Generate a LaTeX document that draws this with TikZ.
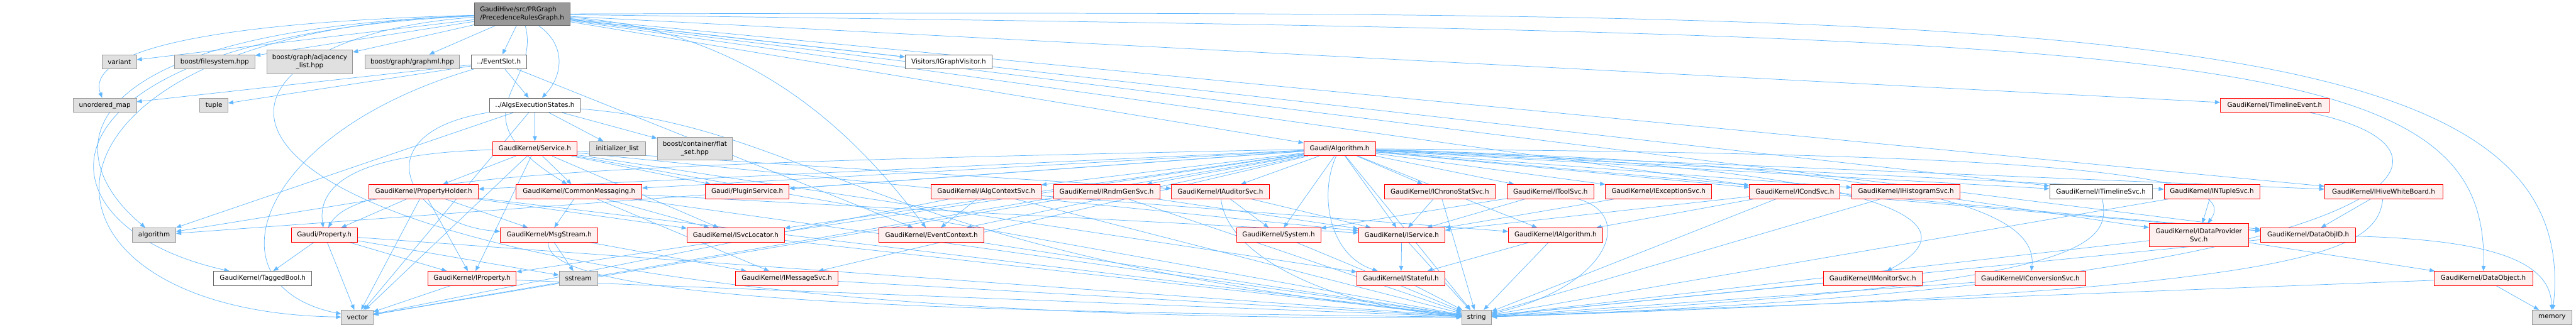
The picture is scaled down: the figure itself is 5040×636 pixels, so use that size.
\documentclass[tikz,border=0pt]{standalone}
\usepackage{fontspec}
\setmainfont{DejaVu Sans}
\usetikzlibrary{arrows.meta}
\definecolor{edgeblue}{HTML}{63B8FF}
\definecolor{redfill}{HTML}{FFF0F0}
\definecolor{grayfill}{HTML}{E0E0E0}
\definecolor{grayline}{HTML}{999999}
\definecolor{darkline}{HTML}{666666}
\definecolor{rootfill}{HTML}{999999}
\definecolor{boxred}{HTML}{FF0000}
\pgfdeclarelayer{bg}
\pgfdeclarelayer{paper}
\pgfsetlayers{paper,bg,main}
\tikzset{
 box/.style={draw, line width=1pt, minimum height=28pt, inner sep=0pt, font=\fontsize{12.8pt}{15.5pt}\selectfont, text=black, align=center},
 rbox/.style={box, draw=boxred, fill=redfill},
 gbox/.style={box, draw=grayline, fill=grayfill},
 wbox/.style={box, draw=darkline, fill=white},
 rootbox/.style={box, draw=darkline, fill=rootfill, align=left, minimum height=45pt},
 lk/.style={draw=edgeblue, line width=0.9pt, -{Triangle[length=10pt,width=8pt]}},
}
\begin{document}
\begin{tikzpicture}[x=1pt,y=-1pt]
\begin{pgfonlayer}{paper}
\fill[white] (0,0) rectangle (5040,636);
\end{pgfonlayer}
\useasboundingbox (0,0) rectangle (5040,636);
% row 0
\node[rootbox, minimum width=187pt] (root) at (1021.5,27.5) {GaudiHive/src/PRGraph\\/PrecedenceRulesGraph.h};
% row 1
\node[gbox, minimum width=67pt] (variant) at (233.5,121) {variant};
\node[gbox, minimum width=158pt] (fs) at (420,121) {boost/filesystem.hpp};
\node[gbox, minimum width=168pt, minimum height=46pt] (adj) at (606,121) {boost/graph/adjacency\\\_list.hpp};
\node[gbox, minimum width=185pt] (gml) at (806.5,121) {boost/graph/graphml.hpp};
\node[wbox, minimum width=108pt] (evs) at (976,121) {../EventSlot.h};
\node[wbox, minimum width=170pt] (igv) at (1856,121) {Visitors/IGraphVisitor.h};
% row 2
\node[gbox, minimum width=124pt] (umap) at (205,206) {unordered\_map};
\node[gbox, minimum width=55pt] (tuple) at (418.5,206) {tuple};
\node[wbox, minimum width=177pt] (aes) at (1046.5,206) {../AlgsExecutionStates.h};
\node[rbox, minimum width=213pt] (tle) at (4450.5,206) {GaudiKernel/TimelineEvent.h};
% row 3
\node[rbox, minimum width=165pt] (svc) at (1046.5,291) {GaudiKernel/Service.h};
\node[gbox, minimum width=110pt] (initl) at (1208,291) {initializer\_list};
\node[gbox, minimum width=147pt, minimum height=45pt] (flat) at (1359.5,291) {boost/container/flat\\\_set.hpp};
\node[rbox, minimum width=140pt] (galg) at (2621,291) {Gaudi/Algorithm.h};
% row 4
\node[rbox, minimum width=214pt] (ph) at (829,375) {GaudiKernel/PropertyHolder.h};
\node[rbox, minimum width=246pt] (cm) at (1133,375) {GaudiKernel/CommonMessaging.h};
\node[rbox, minimum width=164pt] (plg) at (1462,375) {Gaudi/PluginService.h};
\node[rbox, minimum width=215pt] (iacs) at (1929.5,375) {GaudiKernel/IAlgContextSvc.h};
\node[rbox, minimum width=208pt] (irnd) at (2165,375) {GaudiKernel/IRndmGenSvc.h};
\node[rbox, minimum width=191pt] (iaud) at (2387.5,375) {GaudiKernel/IAuditorSvc.h};
\node[rbox, minimum width=216pt] (ichr) at (2817,375) {GaudiKernel/IChronoStatSvc.h};
\node[rbox, minimum width=169pt] (itool) at (3033.5,375) {GaudiKernel/IToolSvc.h};
\node[rbox, minimum width=208pt] (iexc) at (3245,375) {GaudiKernel/IExceptionSvc.h};
\node[rbox, minimum width=177pt] (icond) at (3511.5,375) {GaudiKernel/ICondSvc.h};
\node[rbox, minimum width=212pt] (ihist) at (3729,375) {GaudiKernel/IHistogramSvc.h};
\node[wbox, minimum width=201pt] (itl) at (4110.5,375) {GaudiKernel/ITimelineSvc.h};
\node[rbox, minimum width=187pt] (intup) at (4327.5,375) {GaudiKernel/INTupleSvc.h};
\node[rbox, minimum width=231pt] (ihwb) at (4663.5,375) {GaudiKernel/IHiveWhiteBoard.h};
% row 5
\node[gbox, minimum width=85pt] (algo) at (301.5,460) {algorithm};
\node[rbox, minimum width=129pt] (prop) at (634.5,460) {Gaudi/Property.h};
\node[rbox, minimum width=191pt] (msg) at (1074.5,460) {GaudiKernel/MsgStream.h};
\node[rbox, minimum width=191pt] (isl) at (1439.5,460) {GaudiKernel/ISvcLocator.h};
\node[rbox, minimum width=205pt] (evc) at (1822.5,460) {GaudiKernel/EventContext.h};
\node[rbox, minimum width=165pt] (sys) at (2501.5,460) {GaudiKernel/System.h};
\node[rbox, minimum width=169pt] (isvc) at (2742.5,460) {GaudiKernel/IService.h};
\node[rbox, minimum width=185pt] (ialg) at (3043.5,460) {GaudiKernel/IAlgorithm.h};
\node[rbox, minimum width=194pt, minimum height=45pt] (idp) at (4302,460) {GaudiKernel/IDataProvider\\Svc.h};
\node[rbox, minimum width=186pt] (doid) at (4516,460) {GaudiKernel/DataObjID.h};
% row 6
\node[wbox, minimum width=192pt] (tbool) at (514,545) {GaudiKernel/TaggedBool.h};
\node[rbox, minimum width=173pt] (iprop) at (923.5,545) {GaudiKernel/IProperty.h};
\node[gbox, minimum width=75pt] (sstr) at (1131.5,545) {sstream};
\node[rbox, minimum width=201pt] (imsg) at (1539.5,545) {GaudiKernel/IMessageSvc.h};
\node[rbox, minimum width=172pt] (istf) at (2741,545) {GaudiKernel/IStateful.h};
\node[rbox, minimum width=194pt] (imon) at (3664,545) {GaudiKernel/IMonitorSvc.h};
\node[rbox, minimum width=217pt] (iconv) at (3972.5,545) {GaudiKernel/IConversionSvc.h};
\node[rbox, minimum width=193pt] (dobj) at (4858.5,545) {GaudiKernel/DataObject.h};
% row 7
\node[gbox, minimum width=62pt] (vector) at (699,621) {vector};
\node[gbox, minimum width=58pt] (string) at (2889,621) {string};
\node[gbox, minimum width=78pt] (memory) at (4993,621) {memory};

\begin{pgfonlayer}{bg}
% root
\draw[lk] (root) -- (variant);
\draw[lk] (root) -- (fs);
\draw[lk] (root) -- (adj);
\draw[lk] (root) -- (gml);
\draw[lk] (root) -- (evs);
\draw[lk] (root) .. controls (1110,90) and (1100,150) .. (aes);
\draw[lk] (root) .. controls (1060,170) and (880,220) .. (cm);
\draw[lk] (root) .. controls (350,45) and (170,110) .. (umap);
\draw[lk] (root) .. controls (120,60) and (110,300) .. (algo);
\draw[lk] (root) .. controls (40,70) and (40,440) .. (tbool);
\draw[lk] (root) .. controls (0,60) and (0,610) .. (vector);
\draw[lk] (root) .. controls (250,80) and (200,640) .. (string);
\draw[lk] (root) -- (igv);
\draw[lk] (root) -- (galg);
\draw[lk] (root) .. controls (1500,60) and (1700,300) .. (evc);
\draw[lk] (root) -- (tle);
\draw[lk] (root) -- (ihwb);
\draw[lk] (root) -- (itl);
\draw[lk] (root) -- (icond);
\draw[lk] (root) -- (doid);
\draw[lk] (root) .. controls (4300,70) and (4870,80) .. (dobj);
\draw[lk] (root) .. controls (4000,20) and (5060,20) .. (memory);
% EventSlot
\draw[lk] (evs) -- (aes);
\draw[lk] (evs) -- (tuple);
\draw[lk] (evs) -- (umap);
\draw[lk] (evs) -- (evc);
\draw[lk] (evs) .. controls (500,260) and (400,560) .. (vector);
% AlgsExecutionStates
\draw[lk] (aes) -- (svc);
\draw[lk] (aes) -- (initl);
\draw[lk] (aes) -- (flat);
\draw[lk] (aes) .. controls (700,260) and (800,440) .. (msg);
\draw[lk] (aes) -- (algo);
\draw[lk] (aes) .. controls (1600,250) and (1700,500) .. (string);
\draw[lk] (aes) -- (vector);
% Service
\draw[lk] (svc) -- (ph);
\draw[lk] (svc) -- (cm);
\draw[lk] (svc) -- (plg);
\draw[lk] (svc) -- (isl);
\draw[lk] (svc) -- (isvc);
\draw[lk] (svc) -- (istf);
\draw[lk] (svc) -- (iaud);
\draw[lk] (svc) -- (iprop);
\draw[lk] (svc) .. controls (700,300) and (620,360) .. (prop);
\draw[lk] (svc) -- (string);
\draw[lk] (svc) -- (vector);
% PropertyHolder
\draw[lk] (ph) -- (prop);
\draw[lk] (ph) -- (iprop);
\draw[lk] (ph) -- (msg);
\draw[lk] (ph) -- (vector);
\draw[lk] (ph) -- (algo);
\draw[lk] (ph) -- (isl);
\draw[lk] (ph) -- (string);
% CommonMessaging
\draw[lk] (cm) -- (msg);
\draw[lk] (cm) -- (imsg);
\draw[lk] (cm) -- (isl);
\draw[lk] (cm) -- (isvc);
\draw[lk] (cm) -- (string);
% Gaudi/Algorithm
\draw[lk] (galg) -- (ph);
\draw[lk] (galg) -- (cm);
\draw[lk] (galg) -- (plg);
\draw[lk] (galg) -- (iacs);
\draw[lk] (galg) -- (irnd);
\draw[lk] (galg) -- (iaud);
\draw[lk] (galg) -- (ichr);
\draw[lk] (galg) -- (itool);
\draw[lk] (galg) -- (iexc);
\draw[lk] (galg) -- (icond);
\draw[lk] (galg) -- (ihist);
\draw[lk] (galg) -- (itl);
\draw[lk] (galg) -- (intup);
\draw[lk] (galg) -- (ihwb);
\draw[lk] (galg) -- (doid);
\draw[lk] (galg) .. controls (3700,320) and (3990,400) .. (iconv);
\draw[lk] (galg) .. controls (3600,320) and (3900,420) .. (imon);
\draw[lk] (galg) .. controls (3900,300) and (4400,330) .. (idp);
\draw[lk] (galg) -- (evc);
\draw[lk] (galg) -- (isl);
\draw[lk] (galg) -- (imsg);
\draw[lk] (galg) -- (sys);
\draw[lk] (galg) -- (isvc);
\draw[lk] (galg) -- (ialg);
\draw[lk] (galg) .. controls (2580,380) and (2600,500) .. (istf);
\draw[lk] (galg) .. controls (1200,320) and (700,340) .. (prop);
\draw[lk] (galg) -- (iprop);
\draw[lk] (galg) -- (string);
\draw[lk] (galg) -- (vector);
\draw[lk] (galg) -- (algo);
% interfaces row 4
\draw[lk] (iacs) -- (evc);
\draw[lk] (iacs) -- (ialg);
\draw[lk] (iacs) -- (string);
\draw[lk] (iacs) -- (vector);
\draw[lk] (irnd) -- (isvc);
\draw[lk] (irnd) -- (string);
\draw[lk] (irnd) -- (vector);
\draw[lk] (iaud) -- (sys);
\draw[lk] (iaud) -- (isvc);
\draw[lk] (iaud) .. controls (2400,500) and (2600,600) .. (string);
\draw[lk] (ichr) -- (isvc);
\draw[lk] (ichr) -- (string);
\draw[lk] (itool) -- (isvc);
\draw[lk] (itool) -- (sys);
\draw[lk] (itool) .. controls (3200,420) and (3150,560) .. (string);
\draw[lk] (iexc) -- (isvc);
\draw[lk] (icond) -- (isvc);
\draw[lk] (icond) -- (ialg);
\draw[lk] (icond) -- (doid);
\draw[lk] (icond) -- (string);
\draw[lk] (ihist) -- (idp);
\draw[lk] (ihist) -- (string);
\draw[lk] (itl) .. controls (4130,480) and (4100,560) .. (string);
\draw[lk] (intup) -- (idp);
\draw[lk] (intup) -- (string);
\draw[lk] (ihwb) -- (doid);
\draw[lk] (ihwb) .. controls (4650,500) and (4500,570) .. (string);
\draw[lk] (tle) .. controls (4900,300) and (4700,560) .. (string);
% row 5
\draw[lk] (isl) -- (string);
\draw[lk] (evc) -- (string);
\draw[lk] (sys) -- (string);
\draw[lk] (isvc) -- (istf);
\draw[lk] (isvc) -- (string);
\draw[lk] (ialg) -- (istf);
\draw[lk] (ialg) -- (string);
\draw[lk] (idp) -- (dobj);
\draw[lk] (idp) -- (string);
\draw[lk] (doid) .. controls (4900,470) and (4990,520) .. (memory);
\draw[lk] (doid) -- (string);
\draw[lk] (msg) -- (sstr);
\draw[lk] (msg) .. controls (1060,600) and (2000,610) .. (string);
\draw[lk] (msg) -- (imsg);
\draw[lk] (prop) -- (tbool);
\draw[lk] (prop) -- (iprop);
\draw[lk] (prop) -- (sstr);
\draw[lk] (prop) -- (string);
\draw[lk] (prop) -- (vector);
% row 6
\draw[lk] (iprop) -- (vector);
\draw[lk] (iprop) -- (string);
\draw[lk] (imsg) -- (string);
\draw[lk] (istf) -- (string);
\draw[lk] (imon) -- (string);
\draw[lk] (iconv) -- (string);
\draw[lk] (dobj) -- (memory);
\draw[lk] (dobj) -- (string);
\end{pgfonlayer}
\end{tikzpicture}
\end{document}
